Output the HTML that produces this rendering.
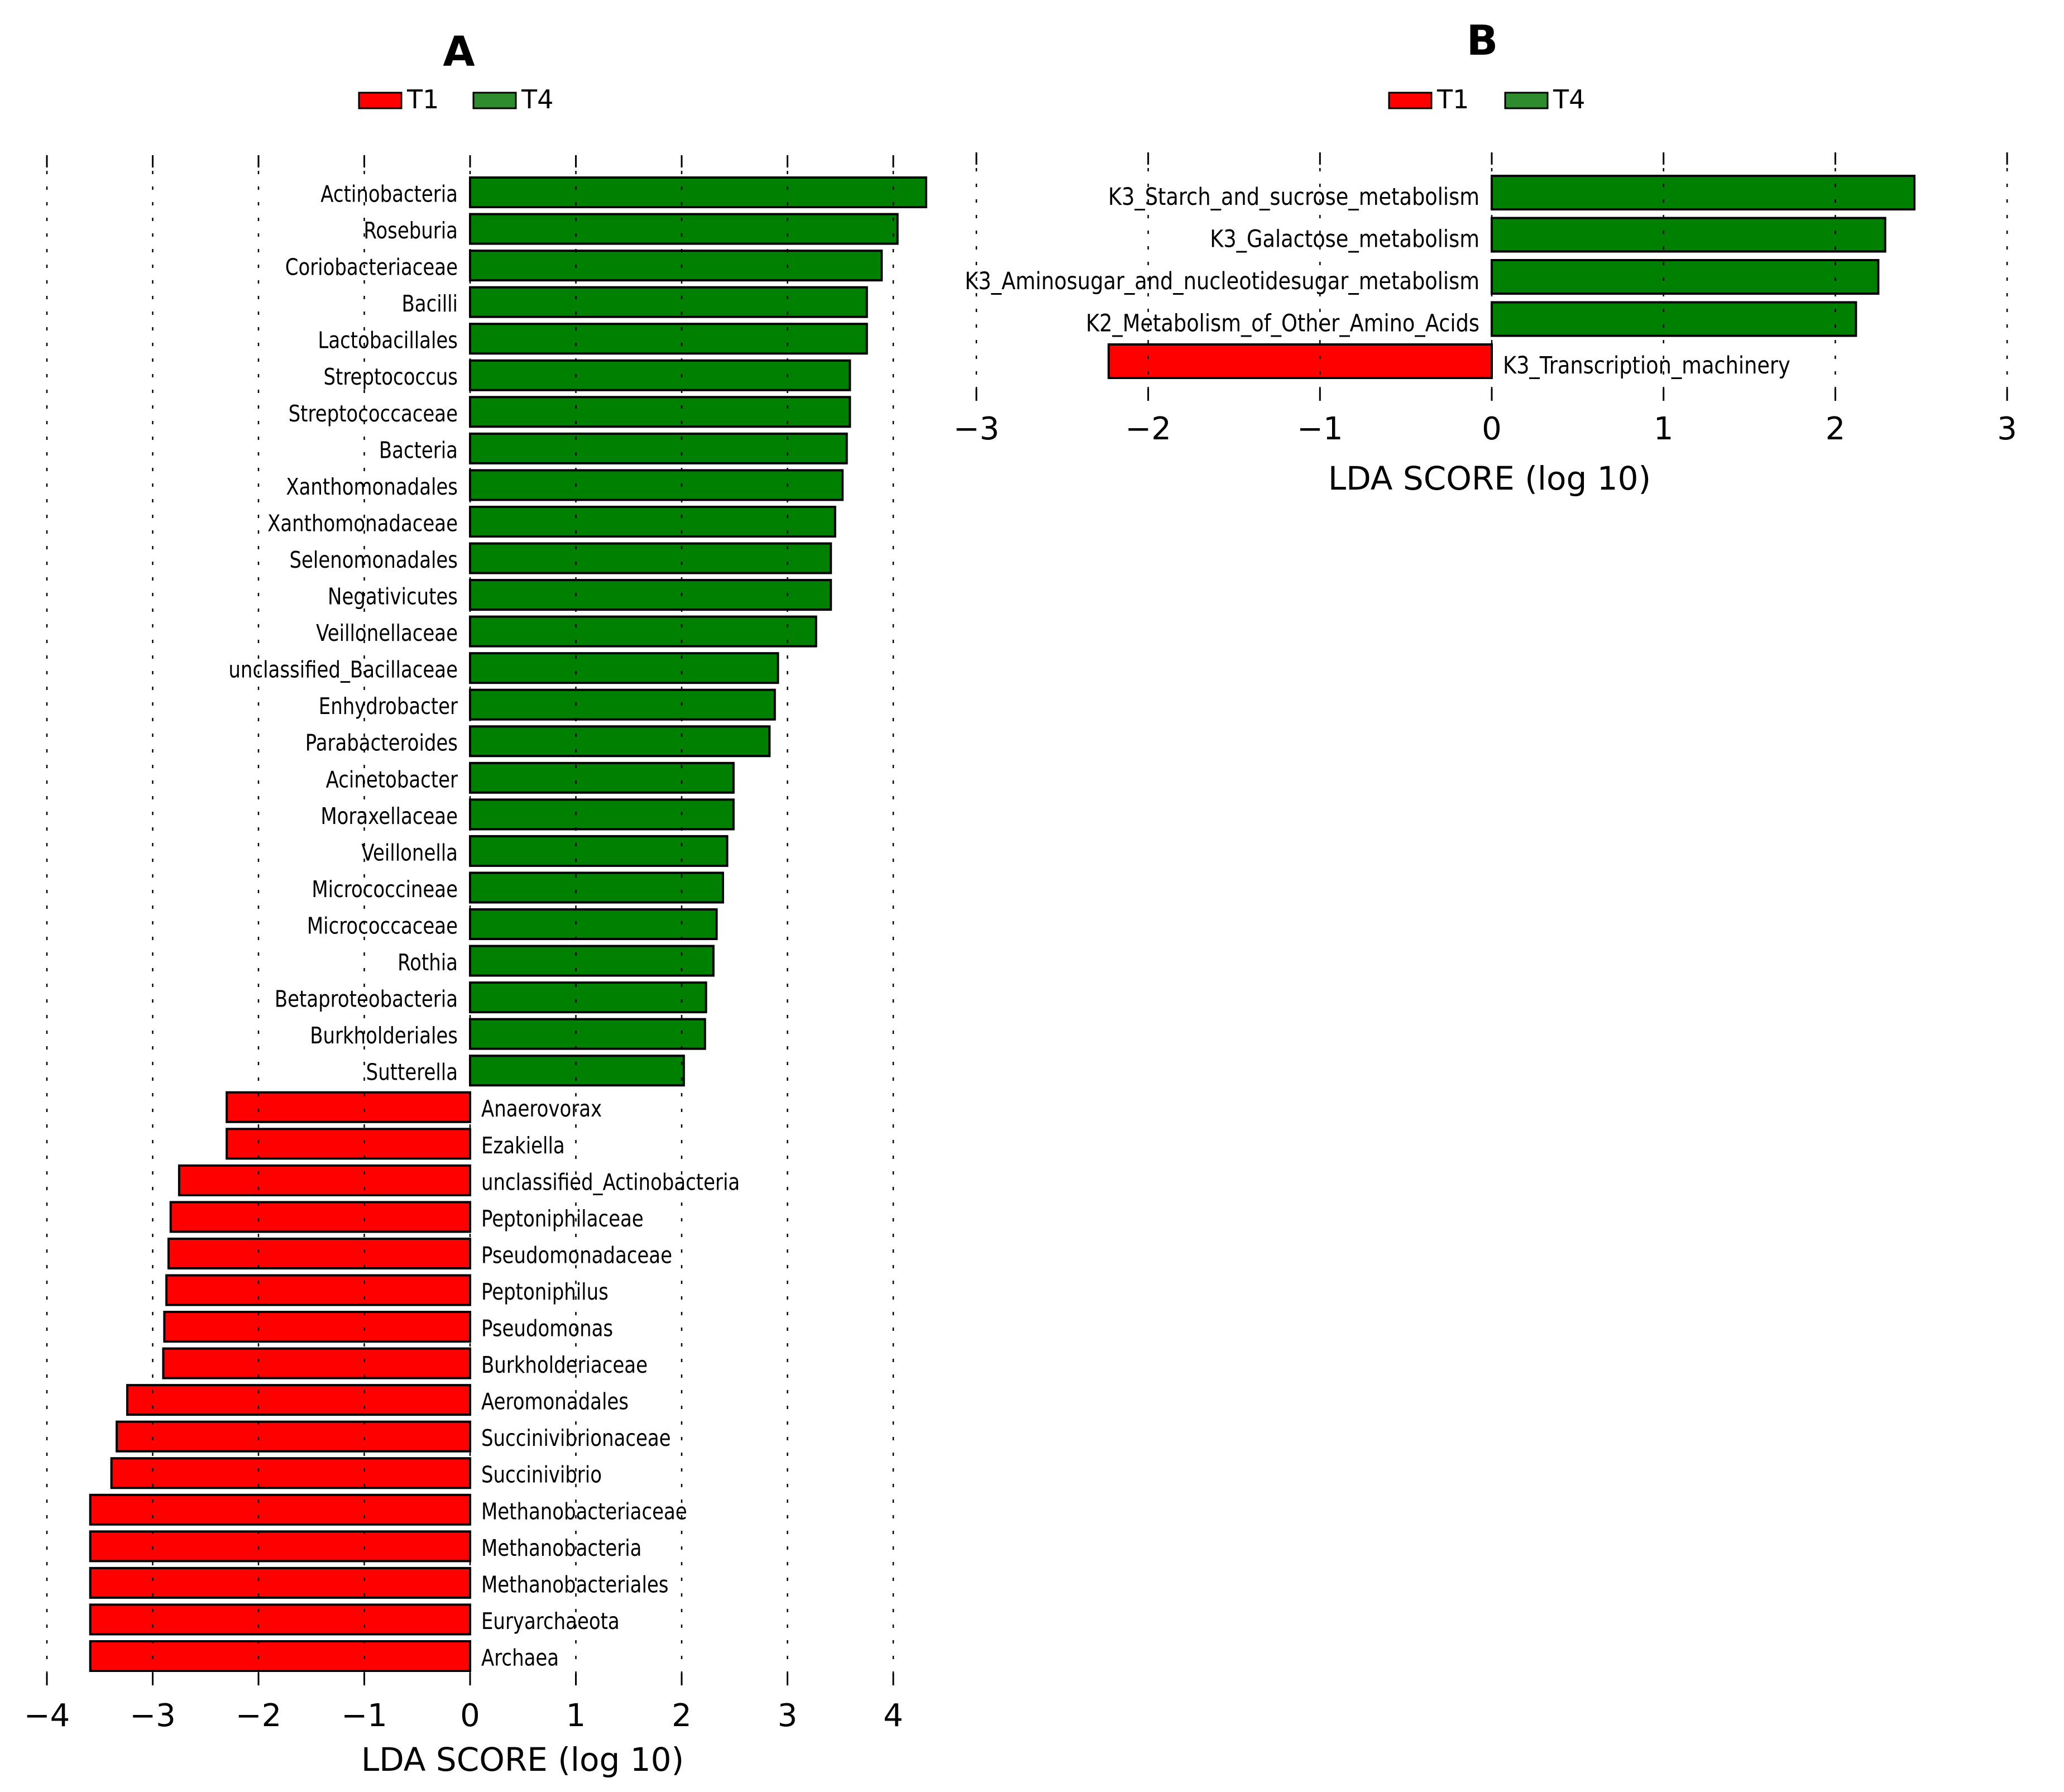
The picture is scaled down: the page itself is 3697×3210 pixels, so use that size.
<!DOCTYPE html>
<html><head><meta charset="utf-8"><style>
html,body{margin:0;padding:0;background:#fff;}
svg{display:block;font-family:"DejaVu Sans","Liberation Sans",sans-serif;}
</style></head><body>
<svg id="chart" width="3697" height="3210" viewBox="0 0 3697 3210"></svg>
<script>
const catsA = ["Actinobacteria","Roseburia","Coriobacteriaceae","Bacilli","Lactobacillales","Streptococcus","Streptococcaceae","Bacteria","Xanthomonadales","Xanthomonadaceae","Selenomonadales","Negativicutes","Veillonellaceae","unclassified_Bacillaceae","Enhydrobacter","Parabacteroides","Acinetobacter","Moraxellaceae","Veillonella","Micrococcineae","Micrococcaceae","Rothia","Betaproteobacteria","Burkholderiales","Sutterella","Anaerovorax","Ezakiella","unclassified_Actinobacteria","Peptoniphilaceae","Pseudomonadaceae","Peptoniphilus","Pseudomonas","Burkholderiaceae","Aeromonadales","Succinivibrionaceae","Succinivibrio","Methanobacteriaceae","Methanobacteria","Methanobacteriales","Euryarchaeota","Archaea"];
const valsA = [4.31,4.04,3.89,3.75,3.75,3.59,3.59,3.56,3.52,3.45,3.41,3.41,3.27,2.91,2.88,2.83,2.49,2.49,2.43,2.39,2.33,2.30,2.23,2.22,2.02,-2.30,-2.30,-2.75,-2.83,-2.85,-2.87,-2.89,-2.90,-3.24,-3.34,-3.39,-3.59,-3.59,-3.59,-3.59,-3.59];
const ticksA = [-4,-3,-2,-1,0,1,2,3,4];
const catsB = ["K3_Starch_and_sucrose_metabolism","K3_Galactose_metabolism","K3_Aminosugar_and_nucleotidesugar_metabolism","K2_Metabolism_of_Other_Amino_Acids","K3_Transcription_machinery"];
const valsB = [2.46,2.29,2.25,2.12,-2.23];
const ticksB = [-3,-2,-1,0,1,2,3];

const svg = document.getElementById('chart');
const NS = 'http://www.w3.org/2000/svg';
function mk(tag, attrs, parent){
  const e = document.createElementNS(NS, tag);
  for (const k in attrs) e.setAttribute(k, attrs[k]);
  (parent||svg).appendChild(e);
  return e;
}
function fmt(t){ return t<0 ? '\u2212'+Math.abs(t) : String(t); }

function panel(cfg){
  const g = mk('g', {});
  
  
  const x = v => cfg.x0 + v*cfg.unit;
  const yTop = i => cfg.barTop + i*cfg.pitch;
  const t = mk('text', {x:cfg.titleX, y:cfg.titleY, 'font-size':74, 'font-weight':'bold', 'text-anchor':'middle', fill:'#000'}, g);
  t.textContent = cfg.title;
  
  
  const lg = [{c:'#ff0000',l:'T1',bx:cfg.legX},{c:'#2e8b2e',l:'T4',bx:cfg.legX+cfg.legGap}];
  lg.forEach(o=>{
    const r = mk('rect', {x:o.bx, y:166, width:76, height:28, fill:o.c, stroke:'#000', 'stroke-width':3}, g);
    
    
    const tx = mk('text', {x:o.bx+86, y:194, 'font-size':46, fill:'#000'}, g);
    tx.textContent = o.l;
    
    
  });
  cfg.vals.forEach((v,i)=>{
    const x1 = x(Math.min(0,v)), w = Math.abs(x(v)-x(0));
    const r = mk('rect', {x:x1, y:yTop(i), width:w, height:cfg.barH, fill: v>=0 ? '#008000' : '#ff0000', stroke:'#000', 'stroke-width':4}, g);
    
    
    const ly = yTop(i)+cfg.barH/2+cfg.labDy;
    const lx = v>=0 ? x(0)-22 : x(0)+20;
    const lab = mk('text', {x:lx, y:ly, 'font-size':cfg.labFs, 'text-anchor': v>=0?'end':'start', fill:'#000',
      transform:'translate('+lx+','+ly+') scale('+cfg.labSx+',1.18) translate('+(-lx)+','+(-ly)+')'}, g);
    lab.textContent = cfg.cats[i];
    
    
  });
  cfg.ticks.forEach(tk=>{
    const gx = x(tk);
    const gl = mk('line', {x1:gx, x2:gx, y1:cfg.gTop, y2:cfg.gBot, stroke:'#000', 'stroke-width':2.5, 'stroke-dasharray':'6 22'}, g);
    
    
    mk('line', {x1:gx, x2:gx, y1:cfg.gTop, y2:cfg.gTop+22, stroke:'#000', 'stroke-width':3}, g);
    mk('line', {x1:gx, x2:gx, y1:cfg.gBot-22, y2:cfg.gBot, stroke:'#000', 'stroke-width':3}, g);
    const tl = mk('text', {x:gx, y:cfg.tickY, 'font-size':56, 'text-anchor':'middle', fill:'#000'}, g);
    tl.textContent = fmt(tk);
    
    
  });
  const at = mk('text', {x:cfg.axX, y:cfg.axY, 'font-size':58, 'text-anchor':'middle', fill:'#000'}, g);
  at.textContent = 'LDA SCORE (log 10)';
  
  
}

panel({name:'panel-a', title:'A', titleX:822, titleY:118, legX:643, legGap:205,
  cats:catsA, vals:valsA, ticks:ticksA, x0:842, unit:189.5,
  barTop:318, pitch:65.55, barH:53, labFs:35, labSx:0.97, labDy:17, gTop:278, gBot:3019, tickY:3092, axX:936, axY:3172});
panel({name:'panel-b', title:'B', titleX:2655, titleY:98, legX:2488, legGap:208,
  cats:catsB, vals:valsB, ticks:ticksB, x0:2672, unit:307.7,
  barTop:315, pitch:75.5, barH:60, labFs:36, labSx:1.02, labDy:22, gTop:273, gBot:718, tickY:787, axX:2668, axY:877});
</script>
</body></html>
